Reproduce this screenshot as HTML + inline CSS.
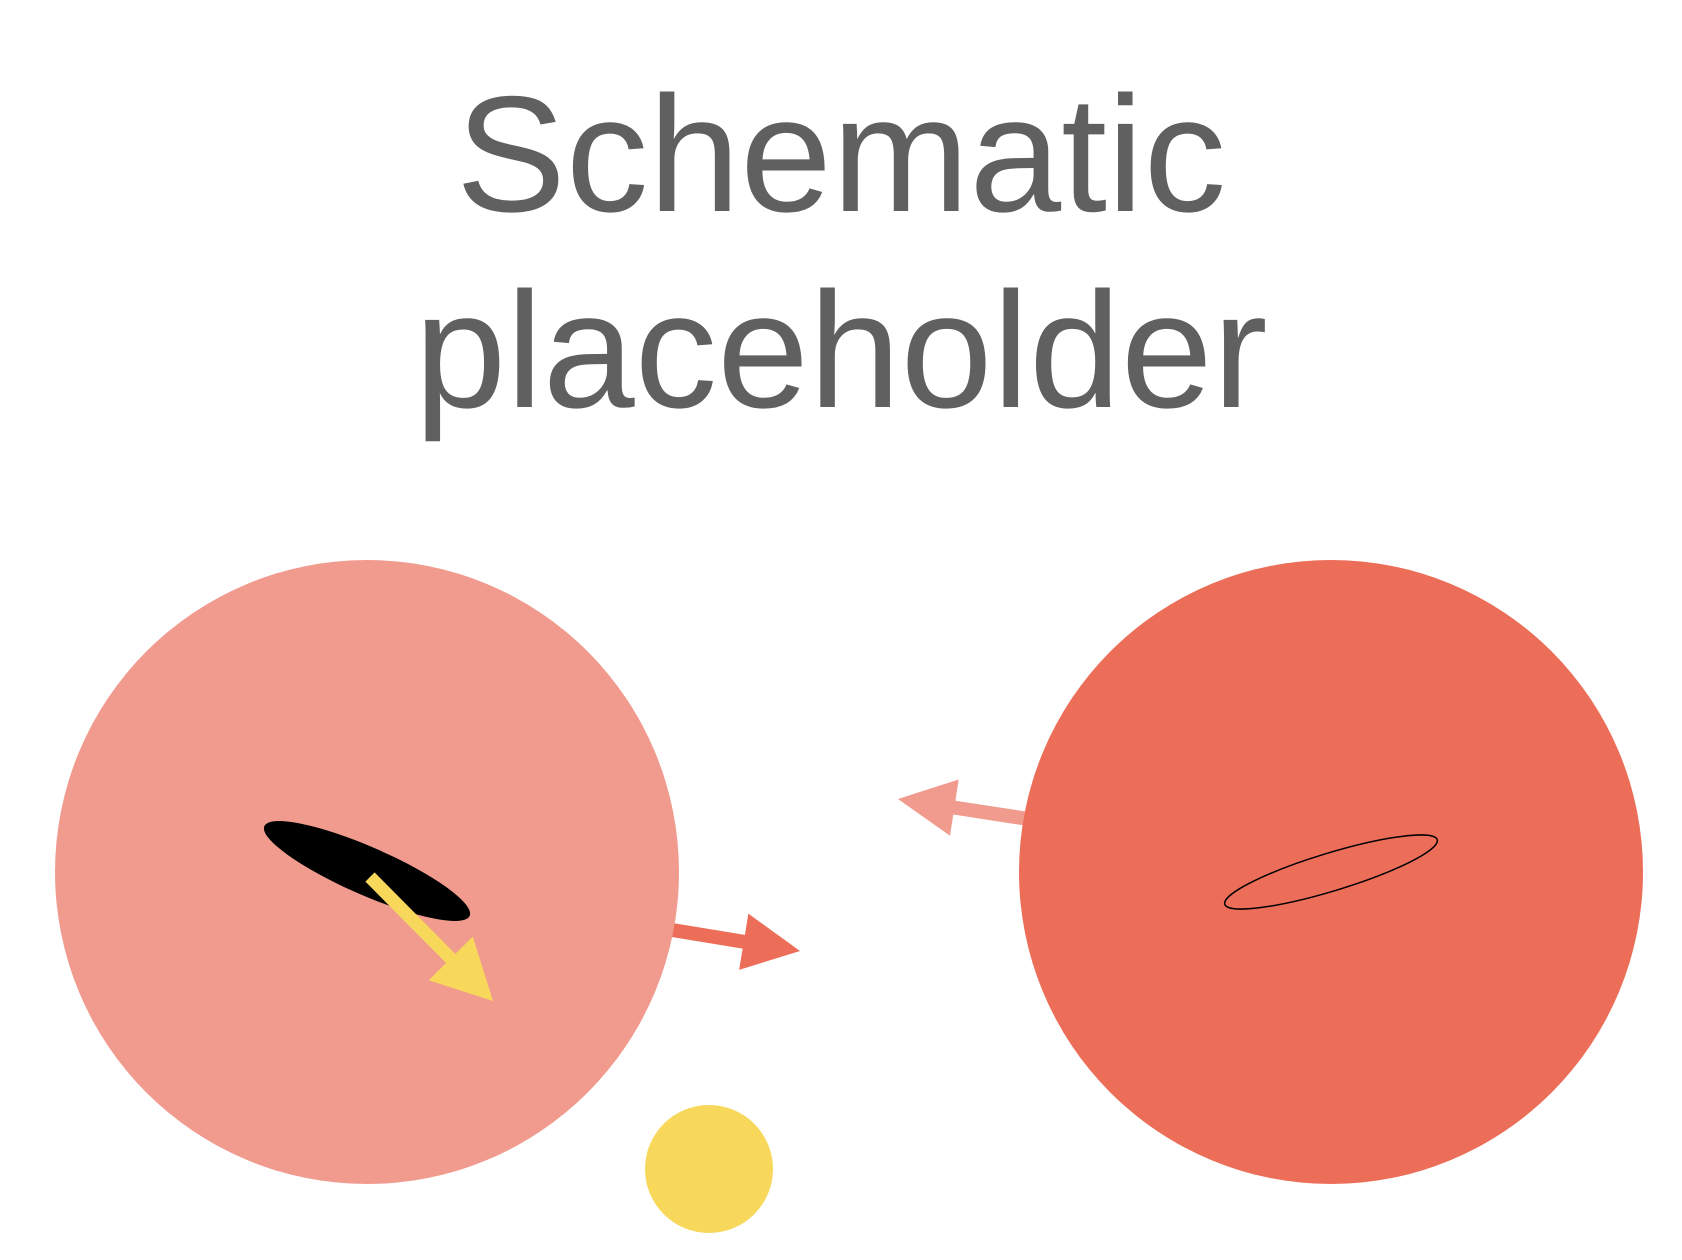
<!DOCTYPE html>
<html><head><meta charset="utf-8"><style>
html,body{margin:0;padding:0;background:#fff;}
svg{display:block;}
</style></head><body>
<svg id="s" width="1682" height="1260" viewBox="0 0 1682 1260">
  <text x="841" y="211" text-anchor="middle" font-family="Liberation Sans, sans-serif" font-size="165" fill="#606060">Schematic</text>
  <text x="841" y="407" text-anchor="middle" font-family="Liberation Sans, sans-serif" font-size="165" fill="#606060">placeholder</text>
  <g id="arrows-under"></g>
  <circle cx="367" cy="872" r="312" fill="#f19b8f"/>
  <circle cx="1331" cy="872" r="312" fill="#ec6e58"/>
  <circle cx="709" cy="1169" r="64" fill="#f8d85a"/>
  <ellipse cx="367" cy="871" rx="112" ry="24" transform="rotate(23.6 367 871)" fill="#000"/>
  <ellipse cx="1331" cy="872" rx="111" ry="19" transform="rotate(-16.9 1331 872)" fill="none" stroke="#000" stroke-width="1.5"/>
  <g id="arrows-over"></g>
</svg>
<script>
const NS='http://www.w3.org/2000/svg';
function arrow(parent,x0,y0,x1,y1,sw,hw,hl,color,name){
  const dx=x1-x0,dy=y1-y0,L=Math.hypot(dx,dy),a=Math.atan2(dy,dx)*180/Math.PI;
  const g=document.createElementNS(NS,'g');
  g.setAttribute('transform','translate('+x0+','+y0+') rotate('+a+')');
  const p=document.createElementNS(NS,'polygon');
  const b=L-hl;
  p.setAttribute('points',[[0,-sw/2],[b,-sw/2],[b,-hw/2],[L,0],[b,hw/2],[b,sw/2],[0,sw/2]].map(q=>q.join(',')).join(' '));
  p.setAttribute('fill',color);
  
  
  g.appendChild(p);parent.appendChild(g);
}
const under=document.getElementById('arrows-under');
const over=document.getElementById('arrows-over');
arrow(under,660,928,800,951,14,57,57,'#ec6e58','red-arrow');
arrow(under,1035,820,898,799,14,57,57,'#f19b8f','pink-arrow');
arrow(over,370,877,493,1001,13,62,60,'#f8d85a','yellow-arrow');
</script>
</body></html>
